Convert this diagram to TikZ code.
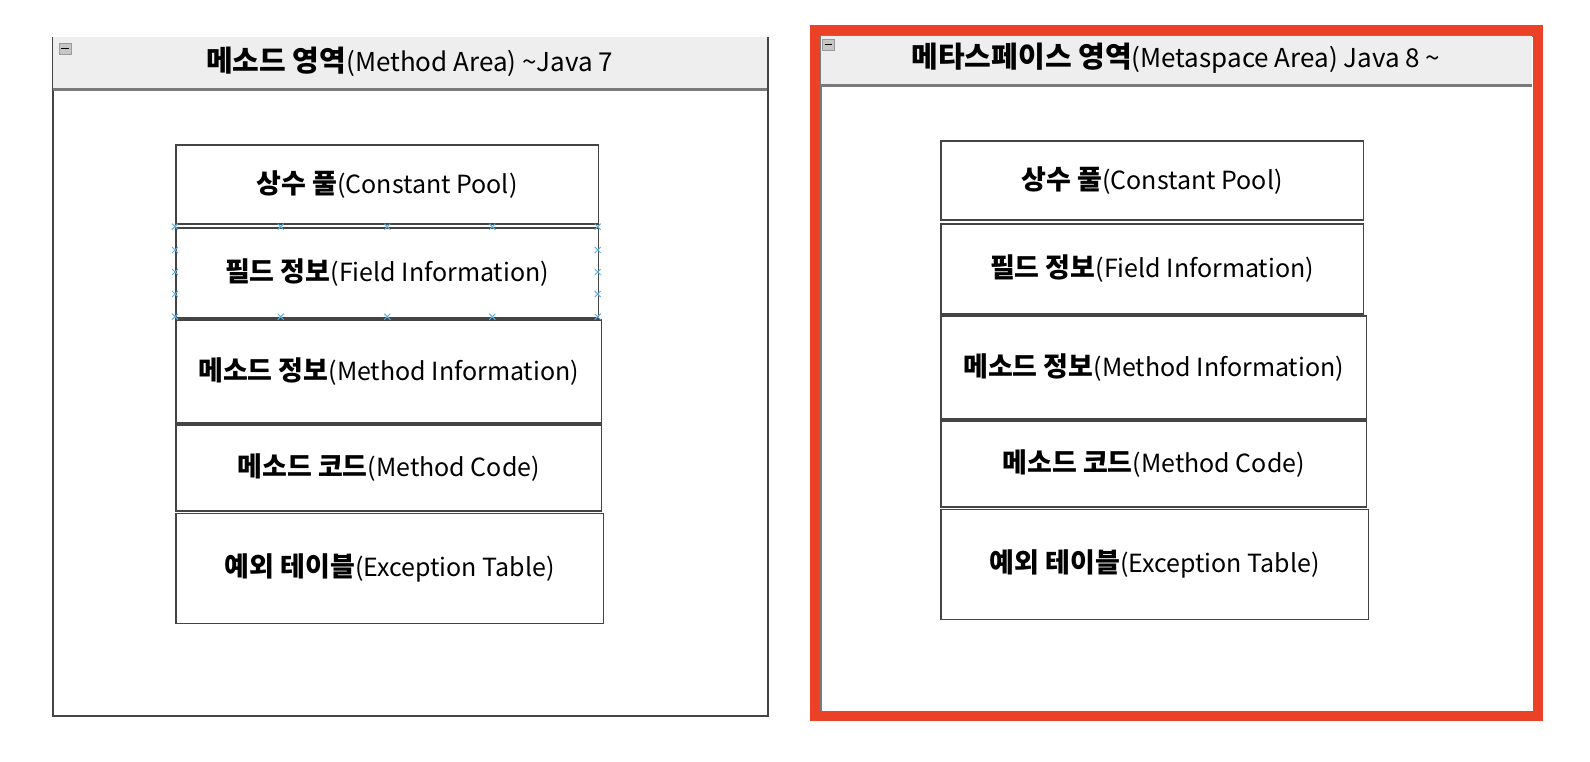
\documentclass[tikz,border=0pt]{standalone}
\usepackage{fontspec}
\newfontfamily\kr{Noto Sans CJK KR}
\definecolor{hdrgray}{HTML}{EEEEEE}
\definecolor{divgray}{HTML}{7A7A7A}
\definecolor{boxgray}{HTML}{444444}
\definecolor{redframe}{HTML}{EA4127}
\definecolor{selblue}{HTML}{5AAEE6}
\newcommand{\kb}[1]{{\fontsize{27}{30}\selectfont\bfseries #1}}
\newcommand{\tkb}[1]{{\fontsize{29}{32}\selectfont\bfseries #1}}
\begin{document}
\begin{tikzpicture}[x=1pt,y=-1pt,
  cont/.style={draw=boxgray, line width=1.5pt, fill=white},
  item/.style={draw=boxgray, line width=1.5pt, fill=white, anchor=north west, inner sep=0pt,
    font=\kr\fontsize{25}{30}\selectfont},
  ttl/.style={inner sep=0pt, font=\kr\fontsize{26}{30}\selectfont},
  icon/.style={draw=gray!80, fill=gray!45, line width=0.6pt},
  selmark/.style={draw=selblue, line width=1pt},
]
\useasboundingbox[fill=white] (0,0) rectangle (1590,762);

% ---------- left container ----------
\node[cont, anchor=north west, minimum width=715pt, minimum height=678.3pt] (lc) at (52.3,36.7) {};
\fill[hdrgray] (53.1,37.5) rectangle (766.5,89.3);
\draw[divgray, line width=2.5pt] (53.1,89.3) -- (766.5,89.3);
\node[ttl] (lt) at (409.8,62) {\tkb{메소드 영역}(Method Area) \char`\~Java 7};
\draw[icon] (59,43) rectangle (71,54);
\draw[black, line width=1pt] (61,48.5) -- (69,48.5);

\node[item, minimum width=422.7pt, minimum height=79pt] (lcp) at (175,144.3) {\kb{상수 풀}(Constant Pool)};
\node[item, minimum width=422.7pt, minimum height=90pt] (lfi) at (175,227.3) {\kb{필드 정보}(Field Information)};
\node[item, minimum width=425.7pt, minimum height=103pt] (lmi) at (175,319.3) {\kb{메소드 정보}(Method Information)};
\node[item, minimum width=425.7pt, minimum height=85.7pt] (lmc) at (175,424.3) {\kb{메소드 코드}(Method Code)};
\node[item, minimum width=427.7pt, minimum height=110pt] (let) at (175,512.7) {\kb{예외 테이블}(Exception Table)};

% selection markers on field box
\foreach \mx in {175,280.7,387.3,492.3,597.7}{
  \foreach \my in {226.7,316.7}{
    \draw[selmark] (\mx-3,\my-3) -- (\mx+3,\my+3) (\mx-3,\my+3) -- (\mx+3,\my-3);
  }
}
\foreach \mx in {175,597.7}{
  \foreach \my in {250,272,294}{
    \draw[selmark] (\mx-3,\my-3) -- (\mx+3,\my+3) (\mx-3,\my+3) -- (\mx+3,\my-3);
  }
}

% ---------- right container ----------
\node[draw=divgray, line width=2pt, fill=white, anchor=north west, minimum width=713pt, minimum height=676pt, inner sep=0pt] (rc) at (820,35) {};
\fill[hdrgray] (821,36) rectangle (1532,85.7);
\draw[divgray, line width=2.5pt] (821,85.7) -- (1532,85.7);
\node[ttl] (rt) at (1176,58) {\tkb{메타스페이스 영역}(Metaspace Area) Java 8 \char`\~};
\draw[icon] (822.7,39) rectangle (834,50.7);
\draw[black, line width=1pt] (824.5,44.8) -- (832.2,44.8);
\draw[redframe, line width=10pt] (815,30) rectangle (1537.7,716);

\node[item, minimum width=422.7pt, minimum height=79pt] (rcp) at (940,140.3) {\kb{상수 풀}(Constant Pool)};
\node[item, minimum width=422.7pt, minimum height=90pt] (rfi) at (940,223.3) {\kb{필드 정보}(Field Information)};
\node[item, minimum width=425.7pt, minimum height=103pt] (rmi) at (940,315.3) {\kb{메소드 정보}(Method Information)};
\node[item, minimum width=425.7pt, minimum height=85.7pt] (rmc) at (940,420.3) {\kb{메소드 코드}(Method Code)};
\node[item, minimum width=427.7pt, minimum height=110pt] (ret) at (940,508.7) {\kb{예외 테이블}(Exception Table)};
\end{tikzpicture}
\end{document}
